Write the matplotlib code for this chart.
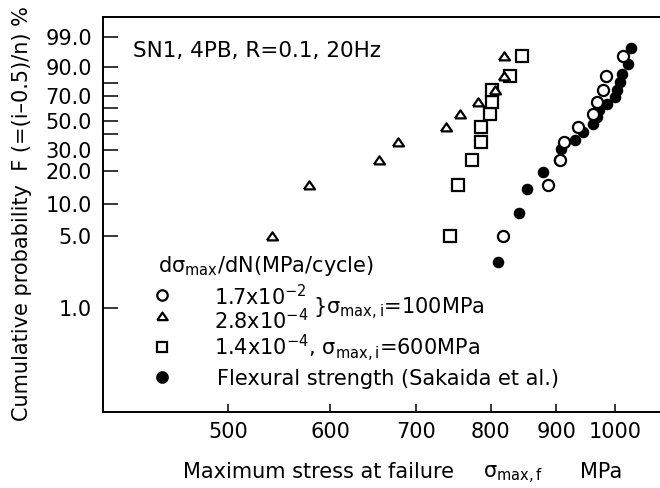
import numpy as np
import matplotlib
matplotlib.use('Agg')
import matplotlib.pyplot as plt
from matplotlib.ticker import NullLocator

plt.rcParams['font.family'] = ['DejaVu Sans']
plt.rcParams['mathtext.fontset'] = 'dejavusans'

# ---- data ----
F10 = [5, 15, 25, 35, 45, 55, 65, 75, 85, 95]               # cumulative probability %, n=10
F18 = [2.78, 8.33, 13.89, 19.44, 25.00, 30.56, 36.11, 41.67, 47.22,
       52.78, 58.33, 63.89, 69.44, 75.00, 80.56, 86.11, 91.67, 97.22]  # n=18

open_circle_x = [818, 887, 906, 913, 936, 962, 968, 979, 984, 1014]   # 1.7e-2, 100MPa
triangle_x = [541, 578, 655, 678, 738, 757, 782, 806, 819, 820]       # 2.8e-4, 100MPa
square_x = [744, 755, 774, 786, 787, 799, 802, 802, 828, 846]         # 1.4e-4, 600MPa
flexural_x = [811, 842, 854, 879, 904, 907, 931, 944, 962, 968, 972,
              985, 1000, 1003, 1008, 1012, 1024, 1029]                # Sakaida et al.

x_ticks = [500, 600, 700, 800, 900, 1000]
y_ticks = [1, 5, 10, 20, 30, 40, 50, 60, 70, 80, 90, 99]
y_ticklabels = ['1.0', '5.0', '10.0', '20.0', '30.0', '', '50.0', '', '70.0', '', '90.0', '99.0']

FS = 15
W, H = 660, 488
fig = plt.figure(figsize=(W / 100, H / 100), dpi=100)
ax = fig.add_axes([103 / W, (H - 412) / H, (662 - 103) / W, (412 - 17) / H])


def fwd(p):
    p = np.clip(np.asarray(p, dtype=float), 1e-9, 100 - 1e-9)
    return np.log(-np.log(1 - p / 100.0))


def inv(z):
    return 100.0 * (1 - np.exp(-np.exp(np.asarray(z, dtype=float))))


ax.set_xscale('log')
ax.set_yscale('function', functions=(fwd, inv))
ax.set_xlim(np.exp(5.990), np.exp(6.9918))
ax.set_ylim(float(inv(-6.945)), float(inv(1.972)))

tri = [(-1.0, -0.7), (1.0, -0.7), (0.0, 0.75), (-1.0, -0.7)]

ax.plot(flexural_x, F18, 'o', ms=7.3, mfc='black', mec='black', mew=1.0, zorder=3)
ax.plot(open_circle_x, F10, 'o', ms=8, mfc='white', mec='black', mew=1.6, zorder=4)
ax.plot(square_x, F10, 's', ms=8, mfc='white', mec='black', mew=1.6, zorder=4)
ax.plot(triangle_x, F10, marker=tri, ls='none', ms=8, mfc='white', mec='black',
        mew=1.6, zorder=5)

ax.set_xticks(x_ticks)
ax.set_xticklabels([str(v) for v in x_ticks])
ax.xaxis.set_minor_locator(NullLocator())
ax.set_yticks(y_ticks)
ax.set_yticklabels(y_ticklabels)
ax.yaxis.set_minor_locator(NullLocator())

ax.tick_params(axis='x', direction='in', length=6, width=1.1, labelsize=FS, pad=7.5)
ax.tick_params(axis='y', direction='in', length=11, width=1.1, labelsize=FS, pad=8)
for s in ['left', 'bottom', 'top']:
    ax.spines[s].set_linewidth(1.4)
ax.spines['right'].set_visible(False)


def ftext(px, py, s, **kw):
    kw.setdefault('fontsize', FS)
    fig.text(px / W, 1 - py / H, s, **kw)


def fmark(px, py, marker, ms, face):
    ax.plot([px / W], [1 - py / H], marker=marker, ls='none', ms=ms, mfc=face,
            mec='black', mew=1.6, transform=fig.transFigure, clip_on=False)


# annotation
ftext(133, 57, 'SN1, 4PB, R=0.1, 20Hz', va='baseline', fontsize=15.5)

# legend
ftext(158, 272, r'd$\mathrm{\sigma}_{\mathrm{max}}$/dN(MPa/cycle)', va='baseline')
fmark(162, 295, 'o', 7.5, 'white')
fmark(162, 316, tri, 7.5, 'white')
fmark(162, 347, 's', 7.5, 'white')
fmark(162, 377, 'o', 7.5, 'black')
ftext(214, 305, r'1.7x10$^{\mathrm{-2}}$', va='baseline')
ftext(214, 329, r'2.8x10$^{\mathrm{-4}}$', va='baseline')
ftext(313, 314, r'}$\mathrm{\sigma}_{\mathrm{max,i}}$=100MPa', va='baseline')
ftext(214, 356, r'1.4x10$^{\mathrm{-4}}$, $\mathrm{\sigma}_{\mathrm{max,i}}$=600MPa', va='baseline')
ftext(217, 385, 'Flexural strength (Sakaida et al.)', va='baseline')

# axis labels
ftext(183, 478, 'Maximum stress at failure', va='baseline')
ftext(483, 478, r'$\mathrm{\sigma}_{\mathrm{max,f}}$', va='baseline')
ftext(580, 478, 'MPa', va='baseline')
ftext(22, 214, 'Cumulative probability  F (=(i\u20130.5)/n) %', rotation=90,
      ha='center', va='center')

fig.savefig('out.png', dpi=100)
